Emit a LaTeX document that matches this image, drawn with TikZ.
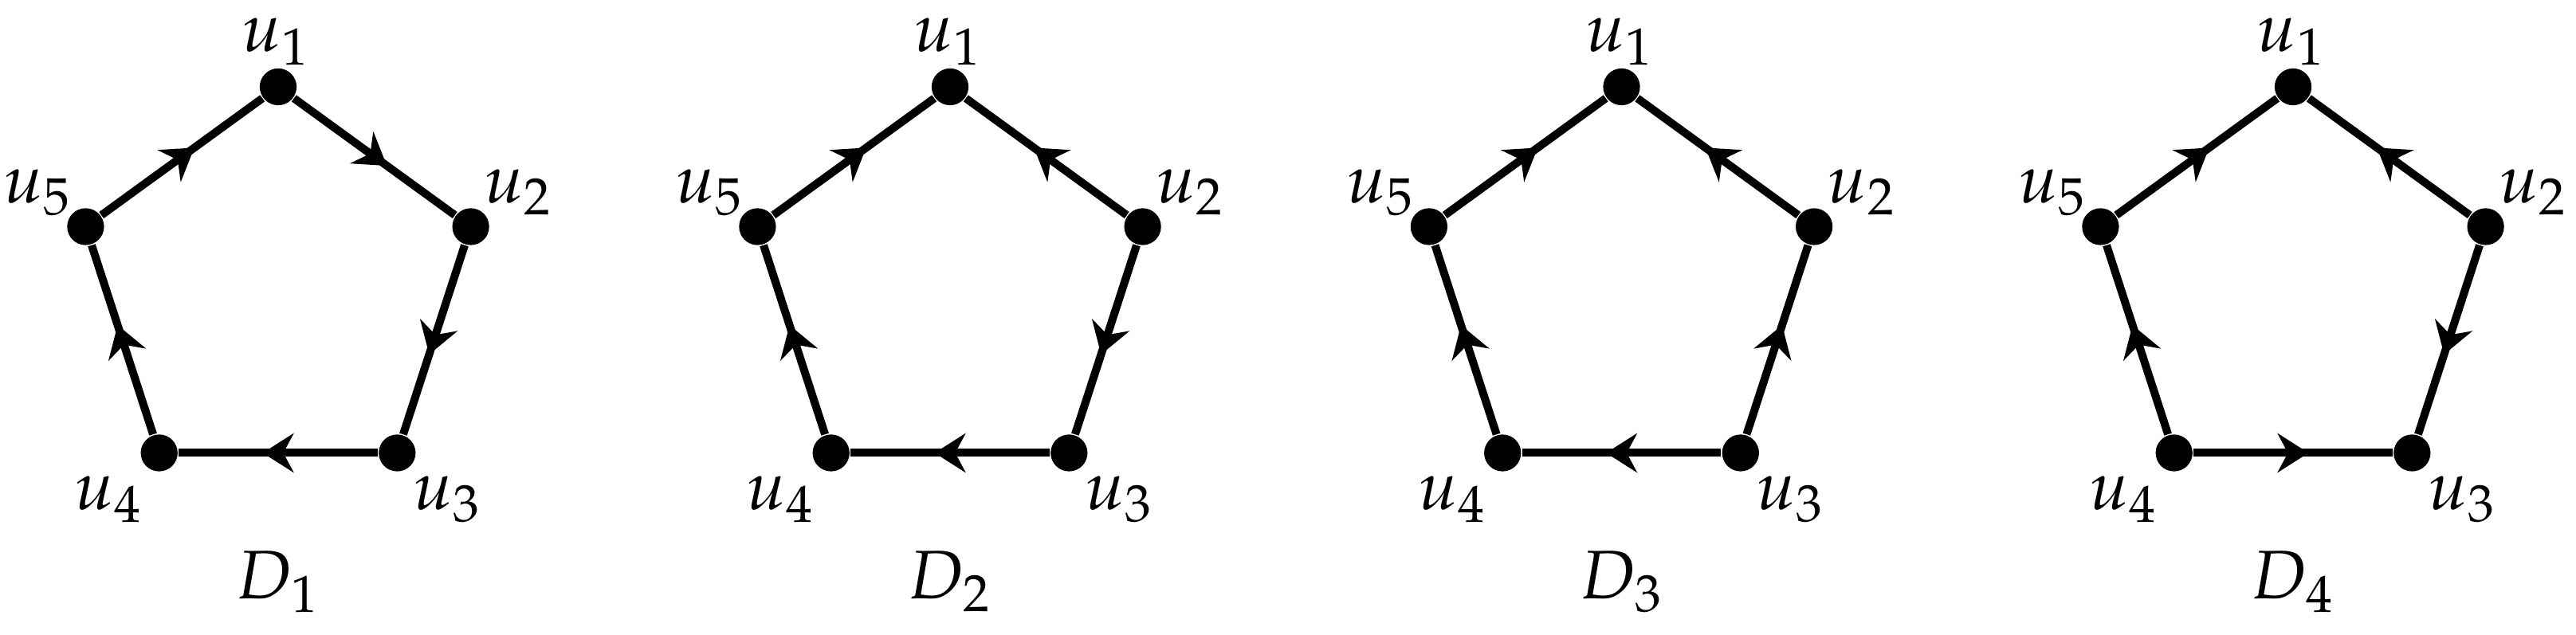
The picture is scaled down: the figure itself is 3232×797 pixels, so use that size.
\documentclass[tikz,border=0pt]{standalone}
\usepackage{mathpazo}
\usetikzlibrary{arrows.meta,decorations.markings,calc}
\tikzset{
  vtx/.style={circle,fill=black,inner sep=0pt,minimum size=6.8pt},
  lab/.style={inner sep=0pt,anchor=base,font=\fontsize{12.7}{15}\selectfont},
  edge/.style={line width=1.47pt,postaction={decorate},
    decoration={markings,mark=at position 0.5 with {\pgftransformxshift{2.85pt}\arrow{Stealth[length=5.7pt,width=7.2pt,inset=1.9pt]}}}},
}
\begin{document}
\begin{tikzpicture}[x=0.147pt,y=-0.147pt]
\useasboundingbox (0,0) rectangle (3232,797);
\foreach \k/\cx in {1/349,2/1192,3/2034.5,4/2877}{
  \node[vtx] (d\k-1) at (\cx,109) {};
  \node[vtx] (d\k-2) at (\cx+241.6,284.5) {};
  \node[vtx] (d\k-3) at (\cx+149.3,568.5) {};
  \node[vtx] (d\k-4) at (\cx-149.3,568.5) {};
  \node[vtx] (d\k-5) at (\cx-241.6,284.5) {};
  \node[lab] (l\k-1) at ($(d\k-1)+(-2,-44)$) {$u_1$};
  \node[lab] (l\k-2) at ($(d\k-2)+(60,-30)$) {$u_2$};
  \node[lab] (l\k-3) at ($(d\k-3)+(63,71)$) {$u_3$};
  \node[lab] (l\k-4) at ($(d\k-4)+(-63,71)$) {$u_4$};
  \node[lab] (l\k-5) at ($(d\k-5)+(-60,-30)$) {$u_5$};
  \node[lab] (D\k) at (\cx,752) {$D_\k$};
}
\foreach \k/\lst in {1/{1/2,2/3,3/4,4/5,5/1},2/{5/1,2/1,2/3,3/4,4/5},3/{5/1,2/1,3/2,3/4,4/5},4/{5/1,2/1,2/3,4/3,4/5}}{
  \foreach \a/\b in \lst {\draw[edge] (d\k-\a) -- (d\k-\b);}
}
\end{tikzpicture}
\end{document}
